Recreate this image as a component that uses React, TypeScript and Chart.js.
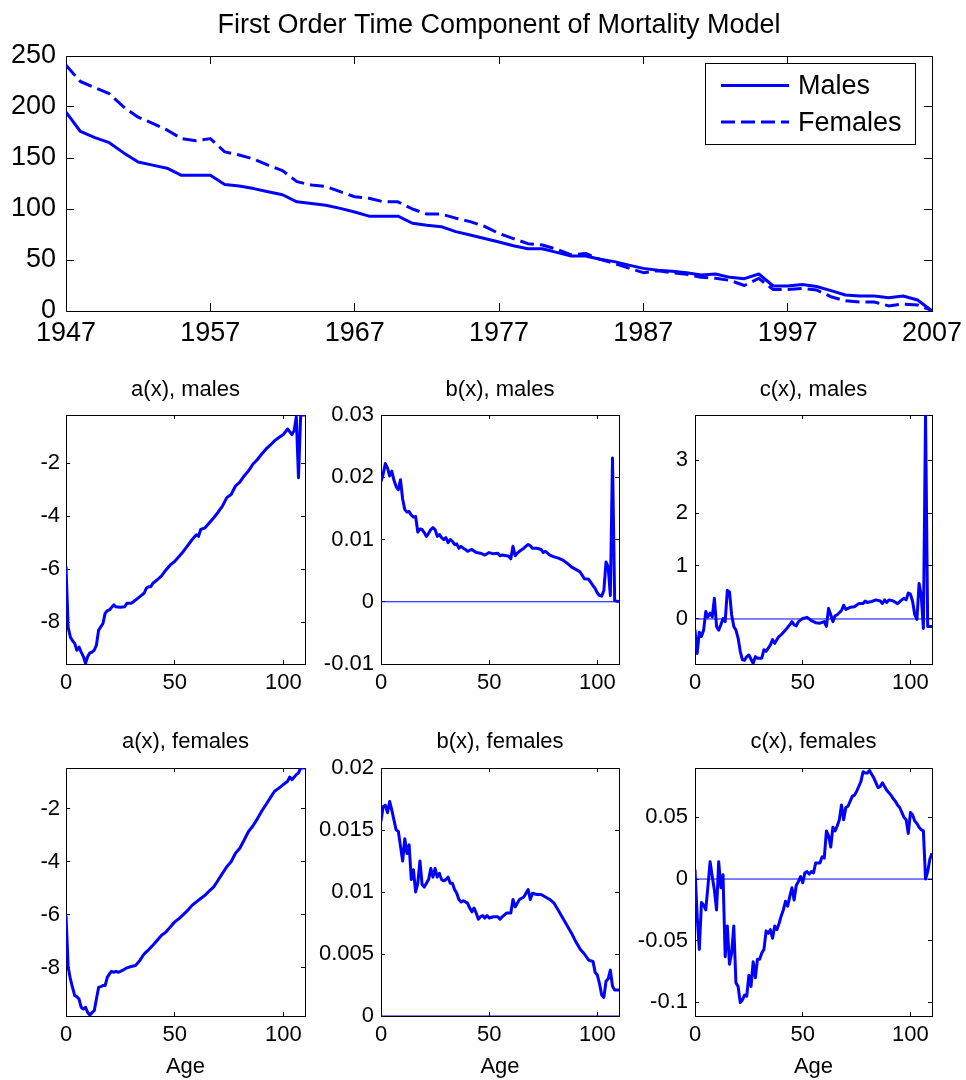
import { useEffect, useRef } from 'react';
import { Chart, registerables } from 'chart.js';

Chart.register(...registerables);

const FONT = "'Liberation Sans', Arial, Helvetica, sans-serif";
const BLUE = '#0000ff';
const W = 966;
const H = 1080;

// ---------- Top panel: first order time component k(t) ----------
const YEARS = [
  1947, 1948, 1949, 1950, 1951, 1952, 1953, 1954, 1955, 1956, 1957,
  1958, 1959, 1960, 1961, 1962, 1963, 1964, 1965, 1966, 1967,
  1968, 1969, 1970, 1971, 1972, 1973, 1974, 1975, 1976, 1977,
  1978, 1979, 1980, 1981, 1982, 1983, 1984, 1985, 1986, 1987,
  1988, 1989, 1990, 1991, 1992, 1993, 1994, 1995, 1996, 1997,
  1998, 1999, 2000, 2001, 2002, 2003, 2004, 2005, 2006, 2007,
];
const MALES_K = [
  195, 176, 170, 165, 155, 146, 143, 140, 133, 133, 133,
  124, 122.5, 120, 117, 114, 107, 105.5, 103.6, 100.6, 97,
  93, 93, 93, 86, 84, 82.7, 77.8, 74.5, 71, 67.6,
  64, 61, 61, 57.5, 54, 54, 50.7, 48.4, 45, 41.8,
  40, 39, 37.6, 35.3, 36.3, 33, 31.7, 36.3, 24.5, 24.5,
  26, 24, 20, 15.7, 14.7, 14.7, 13, 14.7, 10.8, 0,
];
const FEMALES_K = [
  241, 225, 219, 213, 200, 190, 184, 177.5, 169, 167, 169,
  156, 153, 149, 143, 137.6, 126.8, 123.5, 122, 117, 112,
  110.5, 107, 107, 100, 95, 95, 91, 87.6, 83, 76,
  71, 66, 64.7, 60.5, 55, 56.5, 50.7, 46.7, 42, 37.6,
  39.5, 37.6, 36, 33, 32, 30, 25, 32, 21, 21,
  22, 20.6, 14, 10, 8.8, 8.8, 5, 6.8, 6, 0.5,
];
const TOP_X_TICKS = [1947, 1957, 1967, 1977, 1987, 1997, 2007];
const TOP_Y_TICKS = [0, 50, 100, 150, 200, 250];

// ---------- Age panels: [age, value] ----------
const AGE_TICKS = [0, 50, 100];
const ZERO_LINE: [number, number][] = [[0, 0], [110, 0]];

const A_MALES: [number, number][] = [
  [0, -5.9], [1, -8.2], [2, -8.56], [3, -8.7], [4, -8.8], [5, -9.06], [6, -8.94], [7, -9.13],
  [8, -9.3], [9, -9.55], [10, -9.3], [11, -9.16], [12, -9.13], [13, -9.06], [14, -8.87], [15, -8.3],
  [16, -8.18], [17, -8.05], [18, -7.67], [19, -7.57], [20, -7.54], [21, -7.44], [22, -7.35], [23, -7.42],
  [25, -7.44], [27, -7.42], [28, -7.29], [30, -7.29], [31, -7.23], [33, -7.1], [35, -6.97], [36, -6.9],
  [37, -6.72], [38, -6.66], [39, -6.66], [40, -6.53], [42, -6.4], [44, -6.25], [46, -6.03], [48, -5.84],
  [50, -5.71], [52, -5.52], [54, -5.33], [56, -5.11], [58, -4.89], [60, -4.7], [61, -4.76], [62, -4.5],
  [64, -4.44], [66, -4.25], [68, -4.06], [70, -3.85], [72, -3.62], [74, -3.3], [76, -3.18], [78, -2.86],
  [80, -2.71], [82, -2.48], [84, -2.29], [86, -2.04], [88, -1.87], [90, -1.66], [92, -1.47], [94, -1.32],
  [96, -1.15], [98, -1.03], [100, -0.92], [102, -0.71], [104, -0.92], [105, -0.77], [106, -0.25],
  [107, -2.55], [108, -0.2], [109, -0.18], [110, -0.18],
];
const B_MALES: [number, number][] = [
  [0, 0.0193], [1, 0.0205], [2, 0.0222], [3, 0.0215], [4, 0.0202], [5, 0.021], [6, 0.0195], [7, 0.0185],
  [8, 0.018], [9, 0.0196], [10, 0.0165], [11, 0.0148], [12, 0.0144], [13, 0.0145], [14, 0.0139], [15, 0.0136],
  [16, 0.0137], [17, 0.0112], [18, 0.0117], [19, 0.0116], [20, 0.0111], [21, 0.0105], [22, 0.011], [23, 0.0116],
  [24, 0.0119], [25, 0.0116], [26, 0.0105], [27, 0.0108], [28, 0.0103], [29, 0.01], [30, 0.0103], [31, 0.0095],
  [32, 0.01], [33, 0.0097], [34, 0.0092], [35, 0.0093], [36, 0.0086], [37, 0.0089], [38, 0.0086], [39, 0.0084],
  [40, 0.0081], [42, 0.0084], [44, 0.0079], [46, 0.0078], [48, 0.0075], [50, 0.0079], [52, 0.0077], [54, 0.0078],
  [55, 0.0074], [56, 0.0075], [58, 0.0074], [59, 0.0073], [60, 0.0069], [61, 0.0089], [62, 0.0074], [63, 0.0078],
  [64, 0.0081], [66, 0.0086], [68, 0.0092], [69, 0.009], [70, 0.0086], [72, 0.0086], [74, 0.0084], [75, 0.0079],
  [76, 0.0081], [78, 0.0075], [80, 0.0072], [82, 0.007], [84, 0.0067], [86, 0.0062], [88, 0.0056], [90, 0.0052],
  [92, 0.0048], [94, 0.0037], [96, 0.0036], [98, 0.0026], [99, 0.0021], [100, 0.0014], [101, 0.001], [102, 0.0009],
  [103, 0.0018], [104, 0.0064], [105, 0.0056], [106, 0.001], [107, 0.0231], [108, 0.0002], [109, 0.0001], [110, 0],
];
const C_MALES: [number, number][] = [
  [0, -0.2], [1, -0.65], [2, -0.25], [3, -0.33], [4, -0.21], [5, 0.14], [6, 0.04], [7, 0.11],
  [8, 0.04], [9, 0.39], [10, -0.14], [11, -0.21], [12, -0.11], [13, 0.01], [14, -0.05], [15, 0.54],
  [16, 0.51], [17, 0.08], [18, -0.14], [19, -0.21], [20, -0.36], [21, -0.61], [22, -0.77], [23, -0.78],
  [24, -0.71], [25, -0.68], [26, -0.76], [27, -0.84], [28, -0.71], [29, -0.74], [30, -0.74], [31, -0.74],
  [32, -0.58], [33, -0.61], [34, -0.55], [35, -0.49], [36, -0.39], [37, -0.46], [38, -0.39], [39, -0.33],
  [40, -0.3], [42, -0.21], [44, -0.11], [45, -0.05], [46, -0.11], [47, -0.13], [48, -0.05], [50, 0.01],
  [52, 0.03], [54, -0.03], [56, -0.07], [58, -0.08], [60, -0.05], [61, -0.14], [62, 0.2], [63, 0.08],
  [64, -0.05], [65, 0.06], [66, 0.08], [68, 0.16], [69, 0.26], [70, 0.18], [72, 0.22], [74, 0.23],
  [76, 0.29], [78, 0.29], [79, 0.34], [80, 0.31], [82, 0.33], [84, 0.36], [86, 0.34], [87, 0.29],
  [88, 0.36], [89, 0.31], [90, 0.36], [92, 0.34], [94, 0.29], [96, 0.36], [97, 0.39], [98, 0.36],
  [99, 0.49], [100, 0.47], [101, 0.33], [102, 0.08], [103, -0.01], [104, 0.67], [105, 0.45], [106, -0.18],
  [107, 3.85], [108, -0.14], [109, -0.14], [110, -0.14],
];
const A_FEMALES: [number, number][] = [
  [0, -6.03], [1, -7.99], [2, -8.43], [3, -8.75], [4, -9.06], [5, -9.1], [6, -9.19], [7, -9.5],
  [8, -9.57], [9, -9.5], [10, -9.7], [11, -9.8], [12, -9.7], [13, -9.63], [14, -9.19], [15, -8.75],
  [16, -8.72], [17, -8.68], [18, -8.68], [19, -8.37], [20, -8.24], [21, -8.14], [22, -8.18], [23, -8.14],
  [24, -8.18], [26, -8.11], [28, -8.01], [30, -7.96], [32, -7.92], [34, -7.73], [36, -7.48], [38, -7.33],
  [40, -7.16], [42, -6.97], [44, -6.78], [46, -6.66], [48, -6.47], [50, -6.28], [52, -6.15], [54, -6.0],
  [56, -5.84], [58, -5.65], [60, -5.52], [62, -5.39], [64, -5.27], [66, -5.1], [68, -4.95], [70, -4.7],
  [72, -4.44], [74, -4.19], [76, -4.0], [78, -3.68], [80, -3.49], [82, -3.18], [84, -2.86], [86, -2.65],
  [88, -2.39], [90, -2.1], [92, -1.85], [94, -1.59], [96, -1.34], [98, -1.22], [100, -1.09], [102, -0.96],
  [103, -0.8], [104, -0.9], [106, -0.71], [107, -0.65], [108, -0.46], [109, -0.46], [110, -0.46],
];
const B_FEMALES: [number, number][] = [
  [0, 0.0157], [1, 0.0169], [2, 0.017], [3, 0.0164], [4, 0.0173], [5, 0.0166], [6, 0.0158], [7, 0.015],
  [8, 0.0149], [9, 0.0137], [10, 0.0125], [11, 0.0143], [12, 0.0131], [13, 0.0138], [14, 0.011], [15, 0.0118],
  [16, 0.01], [17, 0.0107], [18, 0.0125], [19, 0.0106], [20, 0.0104], [21, 0.0107], [22, 0.011], [23, 0.0119],
  [24, 0.0112], [25, 0.0119], [26, 0.0112], [27, 0.0115], [28, 0.011], [29, 0.0109], [30, 0.011], [31, 0.0112],
  [32, 0.0107], [33, 0.0107], [34, 0.0102], [35, 0.0099], [36, 0.0094], [37, 0.0092], [38, 0.0093], [39, 0.0092],
  [40, 0.0091], [41, 0.0087], [42, 0.0084], [43, 0.0087], [44, 0.0083], [45, 0.0078], [46, 0.008], [47, 0.0081],
  [48, 0.0079], [49, 0.0081], [50, 0.0079], [52, 0.008], [54, 0.008], [55, 0.0078], [56, 0.008], [58, 0.0083],
  [60, 0.0083], [61, 0.0094], [62, 0.0088], [63, 0.0091], [64, 0.0094], [66, 0.0096], [67, 0.0099], [68, 0.0102],
  [69, 0.0094], [70, 0.0099], [72, 0.0098], [74, 0.0098], [76, 0.0096], [78, 0.0094], [80, 0.0091], [82, 0.0085],
  [84, 0.0079], [86, 0.0073], [88, 0.0067], [90, 0.006], [92, 0.0054], [94, 0.005], [96, 0.0045], [98, 0.0044],
  [99, 0.0035], [100, 0.0033], [101, 0.0026], [102, 0.0017], [103, 0.0015], [104, 0.0028], [105, 0.003],
  [106, 0.0037], [107, 0.0024], [108, 0.0021], [109, 0.0021], [110, 0.0021],
];
const C_FEMALES: [number, number][] = [
  [0, 0.0076], [1, -0.03], [2, -0.057], [3, -0.019], [4, -0.021], [5, -0.025], [6, -0.006], [7, 0.014],
  [8, 0.002], [9, -0.009], [10, -0.025], [11, 0.014], [12, -0.007], [13, 0.0035], [14, -0.063], [15, -0.038],
  [16, -0.069], [17, -0.06], [18, -0.038], [19, -0.084], [20, -0.087], [21, -0.1], [22, -0.098], [23, -0.094],
  [24, -0.095], [25, -0.078], [26, -0.087], [27, -0.067], [28, -0.08], [29, -0.065], [30, -0.065], [31, -0.06],
  [32, -0.057], [33, -0.042], [34, -0.044], [35, -0.041], [36, -0.048], [37, -0.038], [38, -0.041], [39, -0.036],
  [40, -0.03], [41, -0.025], [42, -0.018], [43, -0.022], [44, -0.014], [45, -0.007], [46, -0.017], [47, -0.005],
  [48, -0.002], [49, 0.002], [50, -0.003], [51, 0.005], [52, 0.006], [53, 0.004], [54, 0.006], [55, 0.005],
  [56, 0.013], [58, 0.013], [59, 0.018], [60, 0.017], [61, 0.039], [62, 0.035], [63, 0.026], [64, 0.042],
  [65, 0.039], [66, 0.043], [67, 0.048], [68, 0.06], [69, 0.048], [70, 0.058], [71, 0.059], [72, 0.063],
  [73, 0.067], [74, 0.068], [75, 0.071], [76, 0.075], [77, 0.079], [78, 0.087], [79, 0.086], [80, 0.086],
  [81, 0.088], [82, 0.085], [83, 0.082], [84, 0.078], [85, 0.074], [86, 0.075], [87, 0.078], [88, 0.075],
  [89, 0.072], [90, 0.07], [91, 0.068], [92, 0.065], [93, 0.063], [94, 0.06], [95, 0.058], [96, 0.054],
  [97, 0.05], [98, 0.048], [99, 0.037], [100, 0.054], [101, 0.052], [102, 0.047], [103, 0.045], [104, 0.042],
  [105, 0.04], [106, 0.039], [107, 0], [108, 0.006], [109, 0.016], [110, 0.021],
];

// ---------- helpers ----------
type Rect = { L: number; R: number; T: number; B: number };
interface PlotSpec {
  rect: Rect;
  title: string;
  titleSize: number;
  titleY: number;
  fontSize: number;
  tickLen: number;
  yGap: number;
  xPad: number;
  xAxisH: number;
  yAxisW: number;
  xMin: number;
  xMax: number;
  xTicks: number[];
  yMin: number;
  yMax: number;
  yTicks: number[];
  xTitle?: string;
  datasets: any[];
  plugins?: any[];
}

const pts = (pairs: [number, number][]) => pairs.map(([x, y]) => ({ x, y }));

function lineDs(label: string, pairs: [number, number][], width = 3, dash: number[] = []) {
  return {
    label,
    data: pts(pairs),
    borderColor: BLUE,
    backgroundColor: BLUE,
    borderWidth: width,
    borderDash: dash,
    borderJoinStyle: 'round',
    borderCapStyle: 'butt',
    pointRadius: 0,
    pointHoverRadius: 0,
    tension: 0,
    fill: false,
  };
}

const noAxisPadding = (sc: any) => {
  sc.paddingLeft = 0;
  sc.paddingRight = 0;
  sc.paddingTop = 0;
  sc.paddingBottom = 0;
};

function buildConfig(s: PlotSpec): any {
  const lh = s.titleSize * 1.2;
  const padTop = s.titleY - lh / 2;
  const titlePadBottom = s.rect.T - padTop - lh;
  const tickFont = { family: FONT, size: s.fontSize, lineHeight: 1.2 };
  const grid = {
    display: true,
    drawOnChartArea: false,
    drawTicks: true,
    tickLength: -s.tickLen,
    color: '#000',
    lineWidth: 1,
    z: -1,
  };
  const border = { display: true, color: '#000', width: 1, z: -1 };
  const setTicks = (vals: number[]) => (sc: any) => {
    sc.ticks = vals.map((v) => ({ value: v }));
  };
  return {
    type: 'line',
    data: { datasets: s.datasets },
    plugins: s.plugins || [],
    options: {
      responsive: false,
      animation: false,
      events: [],
      layout: {
        padding: {
          left: s.rect.L - s.yAxisW,
          right: W - s.rect.R,
          top: padTop,
          bottom: H - s.rect.B - s.xAxisH,
        },
      },
      plugins: {
        legend: { display: false },
        tooltip: { enabled: false },
        title: {
          display: true,
          text: s.title,
          fullSize: false,
          color: '#000',
          font: { family: FONT, size: s.titleSize, weight: 'normal', lineHeight: 1.2 },
          padding: { top: 0, bottom: titlePadBottom },
        },
      },
      scales: {
        x: {
          type: 'linear',
          axis: 'x',
          position: 'bottom',
          min: s.xMin,
          max: s.xMax,
          afterBuildTicks: setTicks(s.xTicks),
          afterFit: (sc: any) => {
            sc.height = s.xAxisH;
            noAxisPadding(sc);
          },
          grid,
          border,
          ticks: {
            font: tickFont,
            color: '#000',
            padding: s.xPad + s.tickLen,
            maxRotation: 0,
            minRotation: 0,
            autoSkip: false,
            callback: (v: number) => String(v),
          },
          title: s.xTitle
            ? {
                display: true,
                text: s.xTitle,
                color: '#000',
                font: { family: FONT, size: s.fontSize, lineHeight: 1.2 },
                padding: { top: 0, bottom: 0 },
              }
            : { display: false },
        },
        x2: {
          type: 'linear',
          axis: 'x',
          position: 'top',
          min: s.xMin,
          max: s.xMax,
          afterBuildTicks: setTicks(s.xTicks),
          afterFit: (sc: any) => {
            sc.height = 0;
            noAxisPadding(sc);
          },
          grid,
          border,
          ticks: { display: false },
        },
        y: {
          type: 'linear',
          axis: 'y',
          position: 'left',
          min: s.yMin,
          max: s.yMax,
          afterBuildTicks: setTicks(s.yTicks),
          afterFit: (sc: any) => {
            sc.width = s.yAxisW;
            noAxisPadding(sc);
          },
          grid,
          border,
          ticks: {
            font: tickFont,
            color: '#000',
            padding: s.yGap + s.tickLen,
            autoSkip: false,
            callback: (v: number) => String(v),
          },
        },
        y2: {
          type: 'linear',
          axis: 'y',
          position: 'right',
          min: s.yMin,
          max: s.yMax,
          afterBuildTicks: setTicks(s.yTicks),
          afterFit: (sc: any) => {
            sc.width = 0;
            noAxisPadding(sc);
          },
          grid,
          border,
          ticks: { display: false },
        },
      },
    },
  };
}

// legend drawn inside the top-right corner of the main axes
const boxLegend = {
  id: 'boxLegend',
  afterDraw(chart: any) {
    const { ctx, chartArea } = chart;
    const w = 210;
    const h = 81;
    const x0 = Math.round(chartArea.right - 17 - w);
    const y0 = Math.round(chartArea.top + 7);
    ctx.save();
    ctx.fillStyle = '#fff';
    ctx.fillRect(x0, y0, w, h);
    ctx.strokeStyle = '#000';
    ctx.lineWidth = 1;
    ctx.strokeRect(x0 + 0.5, y0 + 0.5, w, h);
    chart.data.datasets.forEach((ds: any, i: number) => {
      const y = y0 + 22.5 + i * 36.5;
      ctx.beginPath();
      ctx.setLineDash(ds.borderDash || []);
      ctx.strokeStyle = ds.borderColor;
      ctx.lineWidth = ds.borderWidth;
      ctx.moveTo(x0 + 16, y);
      ctx.lineTo(x0 + 84, y);
      ctx.stroke();
      ctx.setLineDash([]);
      ctx.fillStyle = '#000';
      ctx.font = `27px ${FONT}`;
      ctx.textBaseline = 'middle';
      ctx.textAlign = 'left';
      ctx.fillText(ds.label, x0 + 93, y + 1.5);
    });
    ctx.restore();
  },
};

const yearPairs = (vals: number[]) => YEARS.map((yr, i) => [yr, vals[i]] as [number, number]);

const ROW1 = { T: 415, B: 664 };
const ROW2 = { T: 768, B: 1016 };
const COLS = [
  { L: 66, R: 305, yAxisW: 60 },
  { L: 381, R: 619, yAxisW: 85 },
  { L: 695, R: 932, yAxisW: 85 },
];

const SUB = {
  titleSize: 22,
  fontSize: 22,
  tickLen: 4,
  xPad: 6,
  xMin: 0,
  xMax: 110,
  xTicks: AGE_TICKS,
};

const rectOf = (c: { L: number; R: number }, r: { T: number; B: number }) => ({ L: c.L, R: c.R, T: r.T, B: r.B });

const SPECS: PlotSpec[] = [
  {
    rect: { L: 66, R: 932, T: 56, B: 311 },
    title: 'First Order Time Component of Mortality Model',
    titleSize: 27,
    titleY: 25.5,
    fontSize: 27,
    tickLen: 8,
    yGap: 10,
    xPad: 6.3,
    xAxisH: 40,
    yAxisW: 60,
    xMin: 1947,
    xMax: 2007,
    xTicks: TOP_X_TICKS,
    yMin: 0,
    yMax: 250,
    yTicks: TOP_Y_TICKS,
    datasets: [
      lineDs('Males', yearPairs(MALES_K)),
      lineDs('Females', yearPairs(FEMALES_K), 3, [14, 6]),
    ],
    plugins: [boxLegend],
  },
  {
    ...SUB,
    rect: rectOf(COLS[0], ROW1),
    yAxisW: COLS[0].yAxisW,
    title: 'a(x), males',
    titleY: 389.5,
    yGap: 6,
    xAxisH: 40,
    yMin: -9.58,
    yMax: -0.18,
    yTicks: [-8, -6, -4, -2],
    datasets: [lineDs('a(x), males', A_MALES)],
  },
  {
    ...SUB,
    rect: rectOf(COLS[1], ROW1),
    yAxisW: COLS[1].yAxisW,
    title: 'b(x), males',
    titleY: 389.5,
    yGap: 7,
    xAxisH: 40,
    yMin: -0.01,
    yMax: 0.03,
    yTicks: [-0.01, 0, 0.01, 0.02, 0.03],
    datasets: [lineDs('b(x), males', B_MALES), lineDs('zero', ZERO_LINE, 1)],
  },
  {
    ...SUB,
    rect: rectOf(COLS[2], ROW1),
    yAxisW: COLS[2].yAxisW,
    title: 'c(x), males',
    titleY: 389.5,
    yGap: 7,
    xAxisH: 40,
    yMin: -0.85,
    yMax: 3.85,
    yTicks: [0, 1, 2, 3],
    datasets: [lineDs('c(x), males', C_MALES), lineDs('zero', ZERO_LINE, 1)],
  },
  {
    ...SUB,
    rect: rectOf(COLS[0], ROW2),
    yAxisW: COLS[0].yAxisW,
    title: 'a(x), females',
    titleY: 742,
    yGap: 6,
    xAxisH: 64,
    xTitle: 'Age',
    yMin: -9.83,
    yMax: -0.46,
    yTicks: [-8, -6, -4, -2],
    datasets: [lineDs('a(x), females', A_FEMALES)],
  },
  {
    ...SUB,
    rect: rectOf(COLS[1], ROW2),
    yAxisW: COLS[1].yAxisW,
    title: 'b(x), females',
    titleY: 742,
    yGap: 7,
    xAxisH: 64,
    xTitle: 'Age',
    yMin: 0,
    yMax: 0.02,
    yTicks: [0, 0.005, 0.01, 0.015, 0.02],
    datasets: [lineDs('b(x), females', B_FEMALES), lineDs('zero', ZERO_LINE, 1)],
  },
  {
    ...SUB,
    rect: rectOf(COLS[2], ROW2),
    yAxisW: COLS[2].yAxisW,
    title: 'c(x), females',
    titleY: 742,
    yGap: 7,
    xAxisH: 64,
    xTitle: 'Age',
    yMin: -0.111,
    yMax: 0.09,
    yTicks: [-0.1, -0.05, 0, 0.05],
    datasets: [lineDs('c(x), females', C_FEMALES), lineDs('zero', ZERO_LINE, 1)],
  },
];

export default function App() {
  const refs = useRef<(HTMLCanvasElement | null)[]>([]);

  useEffect(() => {
    const charts: Chart[] = [];
    SPECS.forEach((spec, i) => {
      const canvas = refs.current[i];
      if (canvas) charts.push(new Chart(canvas, buildConfig(spec)));
    });
    return () => {
      charts.forEach((c) => c.destroy());
    };
  }, []);

  return (
    <div
      style={{
        position: 'absolute',
        left: 0,
        top: 0,
        width: W,
        height: H,
        background: '#fff',
        overflow: 'hidden',
      }}
    >
      {SPECS.map((_, i) => (
        <canvas
          key={i}
          ref={(el) => {
            refs.current[i] = el;
          }}
          width={W}
          height={H}
          style={{ position: 'absolute', left: 0, top: 0, width: W, height: H }}
        />
      ))}
    </div>
  );
}
